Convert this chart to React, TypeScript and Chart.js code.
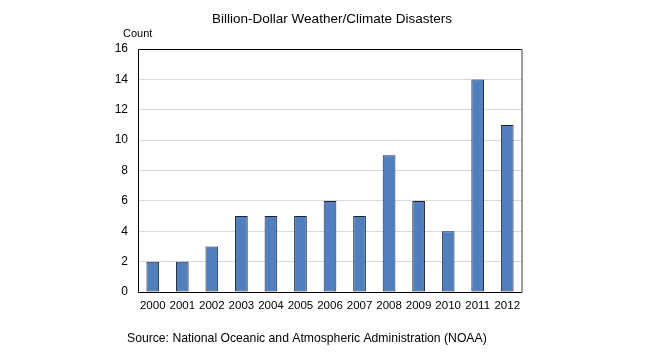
import React, { useEffect, useRef } from "react";
import { Chart, registerables } from "chart.js";

Chart.register(...registerables);

const categories = ["2000", "2001", "2002", "2003", "2004", "2005", "2006", "2007", "2008", "2009", "2010", "2011", "2012"];
const disasterCounts = [2, 2, 3, 5, 5, 5, 6, 5, 9, 6, 4, 14, 11];
const titleText = "Billion-Dollar Weather/Climate Disasters";
const yAxisLabel = "Count";
const sourceText = "Source: National Oceanic and Atmospheric Administration (NOAA)";

const FONT = "'Liberation Sans', Arial, sans-serif";

const decorPlugin = {
  id: "decor",
  afterDraw(chart: any) {
    const { ctx, chartArea } = chart;
    const { left, top, right, bottom } = chartArea;
    ctx.save();
    // frame
    ctx.lineWidth = 1;
    ctx.strokeStyle = "#000000";
    ctx.beginPath();
    ctx.moveTo(right, top + 0.5);
    ctx.lineTo(left + 0.5, top + 0.5);
    ctx.lineTo(left + 0.5, bottom + 0.5);
    ctx.lineTo(right, bottom + 0.5);
    ctx.stroke();
    ctx.strokeStyle = "#7f7f7f";
    ctx.lineWidth = 1.5;
    ctx.beginPath();
    ctx.moveTo(right, top);
    ctx.lineTo(right, bottom + 1);
    ctx.stroke();
    // texts
    ctx.fillStyle = "#000000";
    ctx.textBaseline = "middle";
    ctx.textAlign = "center";
    ctx.font = `13.5px ${FONT}`;
    ctx.fillText(titleText, 332, 19);
    ctx.textAlign = "left";
    ctx.font = `11px ${FONT}`;
    ctx.fillText(yAxisLabel, 123, 34);
    ctx.font = `12.2px ${FONT}`;
    ctx.fillText(sourceText, 127, 339);
    ctx.restore();
  },
};

export default function App() {
  const ref = useRef<HTMLCanvasElement | null>(null);
  useEffect(() => {
    if (!ref.current) return;
    const chart = new Chart(ref.current, {
      type: "bar",
      data: {
        labels: categories,
        datasets: [
          {
            data: disasterCounts,
            backgroundColor: "#4f7fbf",
            borderColor: "#1c2333",
            borderWidth: 1,
            borderSkipped: false,
            barPercentage: 0.43,
            categoryPercentage: 1,
          },
        ],
      },
      options: {
        responsive: false,
        animation: false,
        layout: { padding: { left: 98, top: 49, right: 149, bottom: 46 } },
        plugins: {
          legend: { display: false },
          title: { display: false },
          tooltip: { enabled: false },
        },
        scales: {
          x: {
            grid: { display: false, drawTicks: false },
            border: { display: false },
            ticks: {
              color: "#000",
              font: { family: FONT, size: 11.5 },
              padding: 7,
              maxRotation: 0,
              autoSkip: false,
            },
            afterFit(scale: any) {
              scale.height = 20;
            },
          },
          y: {
            min: 0,
            max: 16,
            grid: { color: "#d9d9d9", drawTicks: false, lineWidth: 1 },
            border: { display: false },
            ticks: {
              stepSize: 2,
              color: "#000",
              font: { family: FONT, size: 12 },
              padding: 10,
            },
            afterFit(scale: any) {
              scale.width = 40;
            },
          },
        },
      },
      plugins: [decorPlugin],
    });
    return () => chart.destroy();
  }, []);
  return (
    <div style={{ position: "absolute", left: 0, top: 0, width: 671, height: 358, background: "#fff" }}>
      <canvas ref={ref} width={671} height={358} />
    </div>
  );
}
